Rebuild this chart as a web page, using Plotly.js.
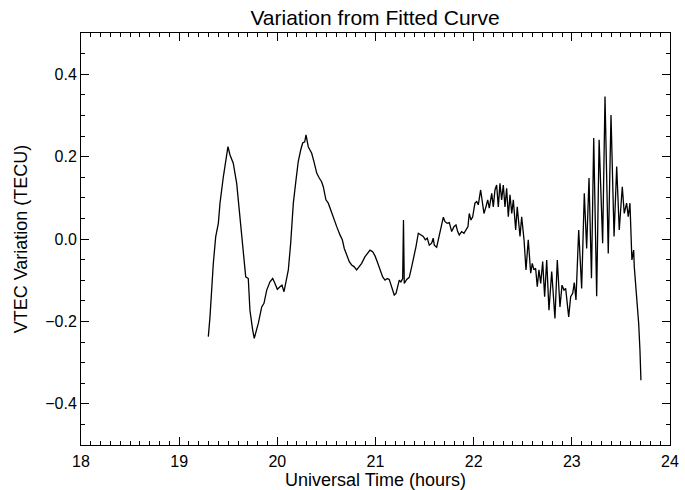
<!DOCTYPE html>
<html>
<head>
<meta charset="utf-8">
<script src="https://cdn.plot.ly/plotly-3.0.1.min.js"></script>
<style>html,body{margin:0;padding:0;background:#fff;}#chart{width:685px;height:490px;}</style>
</head>
<body>
<div id="chart"></div>
<script>
const chartTitle = "Variation from Fitted Curve";
const xLabel = "Universal Time (hours)";
const yLabel = "VTEC Variation (TECU)";
const xTickVals = [18, 19, 20, 21, 22, 23, 24];
const yTickVals = [-0.4, -0.2, 0.0, 0.2, 0.4];

const hours = [
19.297,19.314,19.348,19.372,19.399,19.416,19.450,19.477,19.497,19.518,19.551,19.586,19.620,19.653,19.678,19.704,19.721,19.749,19.765,19.806,
19.841,19.864,19.892,19.925,19.953,19.976,20.000,20.027,20.047,20.068,20.088,20.112,20.136,20.163,20.190,20.213,20.238,20.258,20.279,20.292,
20.315,20.350,20.373,20.401,20.427,20.451,20.468,20.495,20.519,20.543,20.570,20.605,20.638,20.662,20.682,20.707,20.733,20.757,20.781,20.808,
20.832,20.859,20.893,20.916,20.944,20.971,20.995,21.018,21.046,21.073,21.097,21.120,21.140,21.158,21.175,21.191,21.209,21.226,21.242,21.259,
21.277,21.285,21.293,21.318,21.344,21.369,21.392,21.412,21.436,21.460,21.487,21.507,21.527,21.548,21.572,21.588,21.599,21.623,21.650,21.674,
21.691,21.708,21.731,21.752,21.776,21.799,21.820,21.837,21.853,21.878,21.901,21.922,21.942,21.955,21.973,21.990,22.013,22.031,22.047,22.071,
22.088,22.105,22.125,22.143,22.159,22.184,22.200,22.217,22.234,22.251,22.268,22.285,22.302,22.319,22.336,22.353,22.370,22.388,22.404,22.428,
22.444,22.472,22.489,22.513,22.533,22.556,22.581,22.597,22.614,22.631,22.648,22.665,22.683,22.703,22.723,22.744,22.767,22.795,22.828,22.852,
22.879,22.900,22.920,22.937,22.968,22.988,23.009,23.025,23.042,23.070,23.100,23.127,23.151,23.175,23.200,23.223,23.253,23.278,23.314,23.338,
23.371,23.399,23.430,23.457,23.483,23.514,23.534,23.558,23.575,23.592,23.612,23.630,23.636,23.660,23.681,23.694,23.704
];

const vtec = [
-0.237,-0.189,-0.059,0.005,0.038,0.087,0.151,0.192,0.224,0.204,0.184,0.135,0.054,-0.027,-0.092,-0.096,-0.173,-0.221,-0.241,-0.205,
-0.165,-0.156,-0.124,-0.104,-0.096,-0.108,-0.122,-0.116,-0.112,-0.128,-0.104,-0.075,-0.010,0.087,0.143,0.188,0.216,0.233,0.236,0.253,
0.224,0.208,0.188,0.160,0.148,0.139,0.127,0.095,0.087,0.070,0.050,0.030,0.010,-0.002,-0.023,-0.039,-0.055,-0.063,-0.067,-0.075,
-0.067,-0.059,-0.043,-0.035,-0.027,-0.031,-0.041,-0.055,-0.075,-0.092,-0.100,-0.096,-0.098,-0.112,-0.128,-0.136,-0.132,-0.116,-0.100,-0.104,
-0.096,0.046,-0.108,-0.098,-0.093,-0.067,-0.043,-0.019,0.014,0.010,0.006,-0.002,0.002,-0.015,-0.010,0.002,-0.015,-0.020,0.010,0.030,
0.053,0.042,0.038,0.040,0.018,0.030,0.034,0.018,0.010,0.018,0.014,0.022,0.030,0.062,0.046,0.054,0.087,0.091,0.083,0.119,
0.095,0.062,0.078,0.095,0.075,0.111,0.078,0.119,0.131,0.078,0.135,0.095,0.131,0.078,0.123,0.054,0.107,0.062,0.095,0.022,
0.078,0.006,0.054,-0.002,-0.075,-0.002,-0.083,-0.059,-0.075,-0.071,-0.116,-0.075,-0.108,-0.055,-0.140,-0.051,-0.173,-0.079,-0.193,-0.051,
-0.165,-0.112,-0.124,-0.120,-0.189,-0.140,-0.132,-0.106,-0.148,0.022,-0.120,0.111,-0.023,0.148,-0.095,0.245,-0.139,0.241,-0.010,0.346,
-0.035,0.301,0.006,0.176,0.022,0.127,0.062,0.087,0.054,0.087,-0.051,-0.027,-0.067,-0.140,-0.205,-0.270,-0.343
];

const font = "Liberation Sans, Arial, Helvetica, sans-serif";

const trace = {
  x: hours,
  y: vtec,
  type: "scatter",
  mode: "lines",
  line: {color: "#000000", width: 1.3},
  hoverinfo: "skip"
};

const axisCommon = {
  showline: true,
  linecolor: "#000",
  linewidth: 1,
  mirror: "ticks",
  ticks: "inside",
  ticklen: 8,
  tickwidth: 1,
  tickcolor: "#000",
  showgrid: false,
  zeroline: false,
  tickfont: {family: font, size: 16, color: "#000"}
};

const layout = {
  width: 685,
  height: 490,
  paper_bgcolor: "#fff",
  plot_bgcolor: "#fff",
  margin: {l: 81, r: 15, t: 33, b: 45},
  showlegend: false,
  title: {text: chartTitle, font: {family: font, size: 21, color: "#000"}, x: 0.5476, xanchor: "center", y: 0.965, yanchor: "middle"},
  xaxis: Object.assign({}, axisCommon, {
    range: [18, 24],
    tickvals: xTickVals,
    ticktext: xTickVals.map(String),
    ticklabelstandoff: 2,
    minor: {dtick: 0.1, ticks: "inside", ticklen: 4, tickcolor: "#000", tickwidth: 1, showgrid: false},
    title: {text: xLabel, font: {family: font, size: 18, color: "#000"}, standoff: 2}
  }),
  yaxis: Object.assign({}, axisCommon, {
    range: [-0.5, 0.5],
    tickvals: yTickVals,
    tickformat: ".1f",
    minor: {dtick: 0.05, tick0: 0, ticks: "inside", ticklen: 4, tickcolor: "#000", tickwidth: 1, showgrid: false},
    title: {text: yLabel, font: {family: font, size: 18, color: "#000"}, standoff: 12}
  })
};

Plotly.newPlot("chart", [trace], layout, {displayModeBar: false, staticPlot: true});
</script>
</body>
</html>
